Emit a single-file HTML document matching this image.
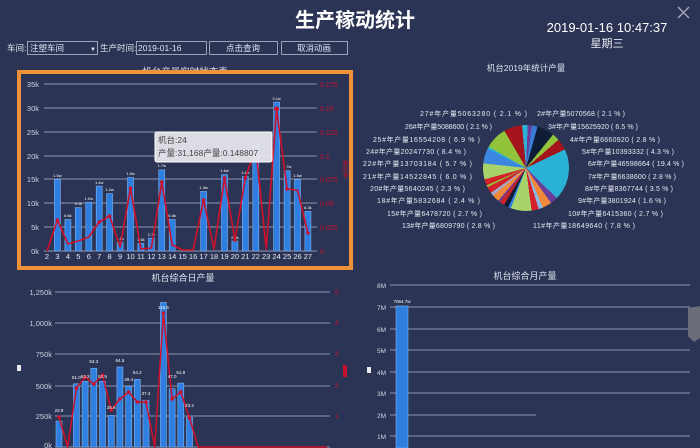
<!DOCTYPE html>
<html><head><meta charset="utf-8"><style>
html,body{margin:0;padding:0;background:#2b3454;width:700px;height:448px;overflow:hidden}
svg{display:block;font-family:"Liberation Sans","Noto Sans CJK SC",sans-serif}
</style></head><body>
<svg width="700" height="448" viewBox="0 0 700 448" xmlns="http://www.w3.org/2000/svg">
<rect width="700" height="448" fill="#2b3454"/>
<text x="355" y="27" fill="#fff" font-size="20" font-weight="bold" text-anchor="middle">生产稼动统计</text>
<text x="607" y="32" fill="#fff" font-size="13" text-anchor="middle">2019-01-16 10:47:37</text>
<text x="607" y="47" fill="#e8e8f0" font-size="11" text-anchor="middle">星期三</text>
<path d="M678 7 L689 18 M689 7 L678 18" stroke="#aab" stroke-width="1.3"/>
<g font-size="8.5" fill="#e0e4f0">
<text x="7" y="51">车间:</text>
<rect x="27.5" y="41.5" width="70" height="13" fill="none" stroke="#9aa3b8"/>
<text x="30" y="51">注塑车间</text><text x="90" y="51" font-size="6">▼</text>
<text x="100" y="51">生产时间:</text>
<rect x="136.5" y="41.5" width="70" height="13" fill="none" stroke="#9aa3b8"/>
<text x="138" y="51">2019-01-16</text>
<rect x="209.5" y="41.5" width="68" height="13" fill="none" stroke="#9aa3b8"/>
<text x="243" y="51" text-anchor="middle">点击查询</text>
<rect x="281.5" y="41.5" width="66" height="13" fill="none" stroke="#9aa3b8"/>
<text x="314" y="51" text-anchor="middle">取消动画</text>
</g>
<text x="185" y="75" fill="#dfe3ee" font-size="9.5" text-anchor="middle">机台产量实时状态表</text>
<rect x="19" y="72" width="332" height="196" fill="#2b3454" stroke="#f0913a" stroke-width="4"/>
<g stroke="#8d96b0" stroke-width="1">
<line x1="44" y1="84" x2="317" y2="84"/><line x1="44" y1="108" x2="317" y2="108"/><line x1="44" y1="132" x2="317" y2="132"/><line x1="44" y1="156" x2="317" y2="156"/><line x1="44" y1="179" x2="317" y2="179"/><line x1="44" y1="203" x2="317" y2="203"/><line x1="44" y1="227" x2="317" y2="227"/><line x1="44" y1="251" x2="317" y2="251"/>
</g>
<g fill="#cfd4e2" font-size="7.5" text-anchor="end">
<text x="39" y="87">35k</text><text x="39" y="111">30k</text><text x="39" y="135">25k</text><text x="39" y="159">20k</text><text x="39" y="182">15k</text><text x="39" y="206">10k</text><text x="39" y="230">5k</text><text x="39" y="254">0k</text>
</g>
<g fill="#c8102e" font-size="7">
<text x="320" y="87">0.175</text><text x="320" y="111">0.15</text><text x="320" y="135">0.125</text><text x="320" y="159">0.1</text><text x="320" y="182">0.075</text><text x="320" y="206">0.05</text><text x="320" y="230">0.025</text><text x="320" y="254">0</text>
</g>
<text x="343" y="160" fill="#c8102e" font-size="6" transform="rotate(90 343 160)">稼动率</text>
<g fill="#2f7fe0" stroke="#7fb3f0" stroke-width="0.6">
<rect x="54.4" y="179.4" width="6" height="71.6"/><rect x="64.9" y="219.5" width="6" height="31.5"/><rect x="75.3" y="207.6" width="6" height="43.4"/><rect x="85.8" y="202.3" width="6" height="48.7"/><rect x="96.2" y="186.1" width="6" height="64.9"/><rect x="106.6" y="193.7" width="6" height="57.3"/><rect x="117.1" y="242.4" width="6" height="8.6"/><rect x="127.5" y="177.5" width="6" height="73.5"/><rect x="137.9" y="243.4" width="6" height="7.6"/><rect x="148.4" y="238.1" width="6" height="12.9"/><rect x="158.8" y="169.9" width="6" height="81.1"/><rect x="169.2" y="219.5" width="6" height="31.5"/><rect x="200.6" y="191.4" width="6" height="59.6"/><rect x="221.5" y="174.7" width="6" height="76.3"/><rect x="231.9" y="241" width="6" height="10"/><rect x="242.3" y="176.6" width="6" height="74.4"/><rect x="252.8" y="146" width="6" height="105"/><rect x="273.6" y="102.1" width="6" height="148.9"/><rect x="284.1" y="170.8" width="6" height="80.2"/><rect x="294.5" y="179.4" width="6" height="71.6"/><rect x="304.9" y="211.4" width="6" height="39.6"/>
</g>
<g fill="#fff" font-size="4" text-anchor="middle">
<text x="57.4" y="177">1.5w</text><text x="67.9" y="217">6.6k</text><text x="78.3" y="205">9.1k</text><text x="88.8" y="200">1.0w</text><text x="99.2" y="184">1.4w</text><text x="109.6" y="191">1.2w</text><text x="120.1" y="240">1.8k</text><text x="130.5" y="175">1.5w</text><text x="140.9" y="241">1.6k</text><text x="151.4" y="236">2.7k</text><text x="161.8" y="167">1.7w</text><text x="172.2" y="217">6.6k</text><text x="203.6" y="189">1.3w</text><text x="224.5" y="172">1.6w</text><text x="234.9" y="239">2.0k</text><text x="245.3" y="174">1.6w</text><text x="276.6" y="100">3.1w</text><text x="287.1" y="168">1.7w</text><text x="297.5" y="177">1.5w</text><text x="307.9" y="209">8.3k</text>
</g>
<polyline fill="none" stroke="#d0102a" stroke-width="1.6" stroke-linejoin="round" points="47,251 57.4,220 67.9,244 78.3,241 88.8,237 99.2,222 109.6,216 120.1,247 130.5,188 140.9,249 151.4,248 161.8,182 172.2,245 182.7,250 193.1,250 203.6,200 214,249 224.5,178 234.9,240 245.3,178 255.8,148 266.2,249 276.6,109 287.1,189 297.5,190 307.9,233"/>
<g fill="#d0102a"><circle cx="57.4" cy="220" r="1.8"/><circle cx="99.2" cy="222" r="1.8"/><circle cx="109.6" cy="216" r="1.8"/><circle cx="130.5" cy="188" r="1.8"/><circle cx="161.8" cy="182" r="1.8"/><circle cx="203.6" cy="200" r="1.8"/><circle cx="224.5" cy="178" r="1.8"/><circle cx="234.9" cy="240" r="1.8"/><circle cx="245.3" cy="178" r="1.8"/><circle cx="276.6" cy="109" r="2.5"/><circle cx="287.1" cy="189" r="1.8"/><circle cx="307.9" cy="233" r="1.8"/></g>
<g fill="#e6e9f2" font-size="7.5" text-anchor="middle">
<text x="47" y="259">2</text><text x="57.4" y="259">3</text><text x="67.9" y="259">4</text><text x="78.3" y="259">5</text><text x="88.8" y="259">6</text><text x="99.2" y="259">7</text><text x="109.6" y="259">8</text><text x="120.1" y="259">9</text><text x="130.5" y="259">10</text><text x="140.9" y="259">11</text><text x="151.4" y="259">12</text><text x="161.8" y="259">13</text><text x="172.2" y="259">14</text><text x="182.7" y="259">15</text><text x="193.1" y="259">16</text><text x="203.6" y="259">17</text><text x="214" y="259">18</text><text x="224.5" y="259">19</text><text x="234.9" y="259">20</text><text x="245.3" y="259">21</text><text x="255.8" y="259">22</text><text x="266.2" y="259">23</text><text x="276.6" y="259">24</text><text x="287.1" y="259">25</text><text x="297.5" y="259">26</text><text x="307.9" y="259">27</text>
</g>
<rect x="155" y="132" width="117" height="30" rx="2" fill="#e9ebef" fill-opacity="0.93" stroke="#fff"/>
<text x="158" y="143" fill="#444" font-size="8.5">机台:24</text>
<text x="158" y="156" fill="#444" font-size="8.5">产量:31,168产量:0.148807</text>
<text x="526" y="71" fill="#dfe3ee" font-size="8.5" text-anchor="middle">机台2019年统计产量</text>
<foreignObject x="483" y="125" width="86" height="86"><div xmlns="http://www.w3.org/1999/xhtml" style="width:86px;height:86px;border-radius:50%;background:conic-gradient(from 8deg,#3a7bd5 0 2.1%,#0f1c36 2.1% 8.6%,#91c33b 8.6% 11.4%,#a3141d 11.4% 15.7%,#2ab2d6 15.7% 35.1%,#6a3d9a 35.1% 37.9%,#f08a3a 37.9% 41.4%,#8bb6e8 41.4% 43%,#d4202a 43% 45.7%,#a8d26a 45.7% 53.5%,#2f7fe0 53.5% 54.5%,#0f1c36 54.5% 56.3%,#c2232d 56.3% 58.2%,#6a3d9a 58.2% 59%,#f08a3a 59% 61.7%,#a6a9c8 61.7% 63%,#d4202a 63% 65.4%,#91c33b 65.4% 66.2%,#d4202a 66.2% 68.5%,#a8d26a 68.5% 74.5%,#3a86e0 74.5% 80.2%,#2ab2d6 80.2% 81%,#91c33b 81% 89.4%,#a3141d 89.4% 96.3%,#2ab2d6 96.3% 98.4%,#6a3d9a 98.4% 100%)"></div></foreignObject>
<g fill="#e4e8f2" font-size="7">
<text x="420" y="116" textLength="107">27#年产量5063280 ( 2.1 % )</text>
<text x="405" y="129" textLength="87">26#年产量5088600 ( 2.1 % )</text>
<text x="373" y="142" textLength="107">25#年产量16554208 ( 6.9 % )</text>
<text x="366" y="154" textLength="100">24#年产量20247730 ( 8.4 % )</text>
<text x="363" y="166" textLength="109">22#年产量13703184 ( 5.7 % )</text>
<text x="363" y="179" textLength="109">21#年产量14522845 ( 6.0 % )</text>
<text x="370" y="191" textLength="95">20#年产量5640245 ( 2.3 % )</text>
<text x="377" y="203" textLength="103">18#年产量5832684 ( 2.4 % )</text>
<text x="387" y="216" textLength="95">15#年产量6478720 ( 2.7 % )</text>
<text x="402" y="228" textLength="93">13#年产量6809790 ( 2.8 % )</text>
<text x="537" y="116" textLength="88">2#年产量5070568 ( 2.1 % )</text>
<text x="548" y="129" textLength="90">3#年产量15625920 ( 6.5 % )</text>
<text x="570" y="142" textLength="90">4#年产量6660920 ( 2.8 % )</text>
<text x="582" y="154" textLength="92">5#年产量10393332 ( 4.3 % )</text>
<text x="588" y="166" textLength="96">6#年产量46598664 ( 19.4 % )</text>
<text x="588" y="179" textLength="88">7#年产量6638600 ( 2.8 % )</text>
<text x="585" y="191" textLength="88">8#年产量8367744 ( 3.5 % )</text>
<text x="578" y="203" textLength="88">9#年产量3801924 ( 1.6 % )</text>
<text x="568" y="216" textLength="95">10#年产量6415360 ( 2.7 % )</text>
<text x="533" y="228" textLength="102">11#年产量18649640 ( 7.8 % )</text>
</g>
<text x="183" y="281" fill="#dfe3ee" font-size="9" text-anchor="middle">机台综合日产量</text>
<g stroke="#8d96b0"><line x1="55" y1="292" x2="330" y2="292"/><line x1="55" y1="323" x2="330" y2="323"/><line x1="55" y1="354" x2="330" y2="354"/><line x1="55" y1="386" x2="330" y2="386"/><line x1="55" y1="416" x2="330" y2="416"/><line x1="55" y1="447" x2="330" y2="447"/></g>
<g fill="#cfd4e2" font-size="7.5" text-anchor="end"><text x="52" y="295">1,250k</text><text x="52" y="326">1,000k</text><text x="52" y="357">750k</text><text x="52" y="389">500k</text><text x="52" y="419">250k</text><text x="52" y="448">0k</text></g>
<g fill="#c8102e" font-size="6.5"><text x="335" y="294">5</text><text x="335" y="325">4</text><text x="335" y="356">3</text><text x="335" y="388">2</text><text x="335" y="418">1</text></g>
<rect x="17" y="365" width="4" height="6" fill="#e8eaf0"/>
<rect x="343" y="365" width="4" height="12" fill="#c8102e"/>
<g fill="#2f7fe0" stroke="#7fb3f0" stroke-width="0.6">
<rect x="56" y="421" width="6" height="26"/><rect x="73.4" y="383.8" width="6" height="63.2"/><rect x="82.1" y="381.3" width="6" height="65.7"/><rect x="90.8" y="368.3" width="6" height="78.7"/><rect x="99.5" y="381.3" width="6" height="65.7"/><rect x="108.2" y="415.4" width="6" height="31.6"/><rect x="116.9" y="367" width="6" height="80"/><rect x="125.6" y="386.2" width="6" height="60.8"/><rect x="134.3" y="379.4" width="6" height="67.6"/><rect x="143" y="400.5" width="6" height="46.5"/><rect x="160.4" y="302.5" width="6" height="144.5"/><rect x="169.1" y="388.7" width="6" height="58.3"/><rect x="177.8" y="383.1" width="6" height="63.9"/><rect x="186.5" y="417.2" width="6" height="29.8"/>
</g>
<polyline fill="none" stroke="#d0102a" stroke-width="1.5" stroke-linejoin="round" points="59,417 67.7,447 76.4,388 85.1,377 93.8,384 102.5,375 111.2,410 119.9,399 128.6,392 137.3,402 146,402 154.7,447 163.4,313 172.1,399 180.8,392 189.5,418 198.2,447 327,447"/>
<g fill="#d0102a"><circle cx="59" cy="417" r="1.8"/><circle cx="76.4" cy="388" r="1.8"/><circle cx="85.1" cy="377" r="1.8"/><circle cx="93.8" cy="384" r="1.8"/><circle cx="102.5" cy="375" r="1.8"/><circle cx="111.2" cy="410" r="1.8"/><circle cx="119.9" cy="399" r="1.8"/><circle cx="128.6" cy="392" r="1.8"/><circle cx="137.3" cy="402" r="1.8"/><circle cx="146" cy="402" r="1.8"/><circle cx="163.4" cy="313" r="1.8"/><circle cx="172.1" cy="399" r="1.8"/><circle cx="180.8" cy="392" r="1.8"/><circle cx="189.5" cy="418" r="1.8"/></g>
<g fill="#fff" font-size="4.5" text-anchor="middle"><text x="59" y="412">23.8</text><text x="76.4" y="379">51.0</text><text x="85.1" y="378">53.3</text><text x="93.8" y="363">63.3</text><text x="102.5" y="378">52.9</text><text x="111.2" y="409">25.6</text><text x="119.9" y="362">64.5</text><text x="128.6" y="381">49.4</text><text x="137.3" y="374">54.2</text><text x="146" y="395">37.4</text><text x="163.4" y="309">116.6</text><text x="172.1" y="378">47.0</text><text x="180.8" y="374">51.8</text><text x="189.5" y="407">23.2</text></g>
<text x="525" y="279" fill="#dfe3ee" font-size="9" text-anchor="middle">机台综合月产量</text>
<g stroke="#8d96b0"><line x1="390" y1="285" x2="690" y2="285"/><line x1="390" y1="307" x2="690" y2="307"/><line x1="390" y1="329" x2="690" y2="329"/><line x1="390" y1="350" x2="690" y2="350"/><line x1="390" y1="372" x2="690" y2="372"/><line x1="390" y1="393" x2="690" y2="393"/><line x1="390" y1="415" x2="536" y2="415"/><line x1="390" y1="436" x2="690" y2="436"/></g>
<g fill="#cfd4e2" font-size="6.5" text-anchor="end"><text x="386" y="288">8M</text><text x="386" y="310">7M</text><text x="386" y="332">6M</text><text x="386" y="353">5M</text><text x="386" y="375">4M</text><text x="386" y="396">3M</text><text x="386" y="418">2M</text><text x="386" y="439">1M</text></g>
<rect x="367" y="367" width="4" height="6" fill="#e8eaf0"/>
<rect x="396" y="306" width="12" height="142" fill="#2f7fe0" stroke="#7fb3f0" stroke-width="0.6"/>
<text x="402" y="303" fill="#fff" font-size="4.5" text-anchor="middle">7064.7w</text>
<path d="M688 308 L700 306 L700 338 L694 342 L688 336 Z" fill="#6a6d78"/>
</svg>
</body></html>
